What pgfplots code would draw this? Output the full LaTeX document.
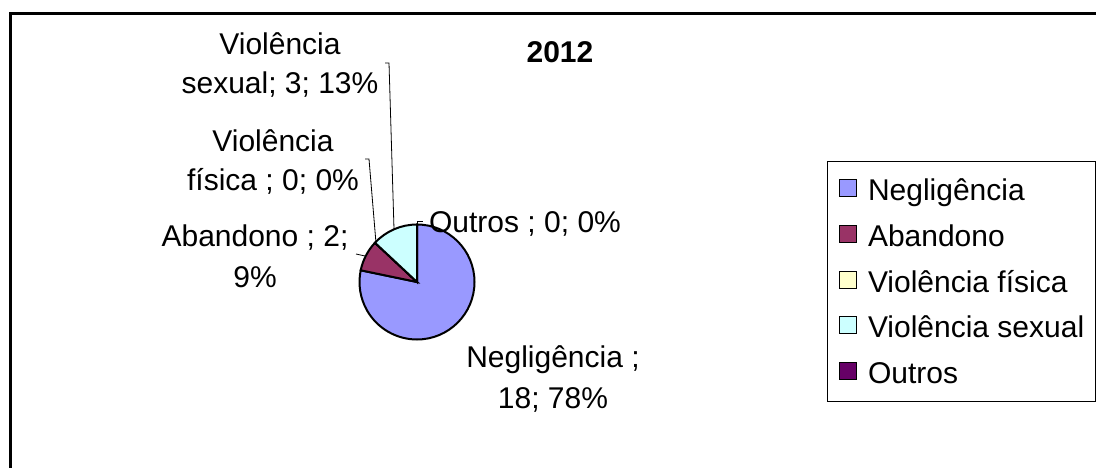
\documentclass[border=0pt]{standalone}
\usepackage{fontspec}
\setmainfont{Liberation Sans}
\usepackage{pgfplots}
\usepackage{pgfplotstable}
\pgfplotsset{compat=1.18}

\definecolor{cNeg}{HTML}{9999FF}
\definecolor{cAba}{HTML}{993366}
\definecolor{cFis}{HTML}{FFFFCC}
\definecolor{cSex}{HTML}{CCFFFF}
\definecolor{cOut}{HTML}{660066}

\pgfplotstableread[col sep=comma]{
cat,value
Negligência,18
Abandono,2
Violência física,0
Violência sexual,3
Outros,0
}\piedata

\pgfplotstablegetelem{0}{value}\of\piedata\edef\vA{\pgfplotsretval}
\pgfplotstablegetelem{1}{value}\of\piedata\edef\vB{\pgfplotsretval}
\pgfplotstablegetelem{2}{value}\of\piedata\edef\vC{\pgfplotsretval}
\pgfplotstablegetelem{3}{value}\of\piedata\edef\vD{\pgfplotsretval}
\pgfplotstablegetelem{4}{value}\of\piedata\edef\vE{\pgfplotsretval}
\pgfmathsetmacro\tot{\vA+\vB+\vC+\vD+\vE}
\pgfmathsetmacro\aA{90}
\pgfmathsetmacro\aB{\aA-360*\vA/\tot}
\pgfmathsetmacro\aC{\aB-360*\vB/\tot}
\pgfmathsetmacro\aD{\aC-360*\vC/\tot}
\pgfmathsetmacro\aE{\aD-360*\vD/\tot}
\pgfmathsetmacro\aF{\aE-360*\vE/\tot}

\newcommand\lbl{\fontsize{30}{39}\selectfont}
\def\cx{417}\def\cy{282}\def\R{57.5pt}

\begin{document}
\begin{tikzpicture}
\useasboundingbox (0,0) rectangle (1096pt,468pt);
\clip (0,0) rectangle (1096pt,468pt);
\begin{axis}[
  at={(0,0)}, anchor=south west,
  width=1096pt, height=468pt, scale only axis,
  xmin=0, xmax=1096, ymin=0, ymax=468, y dir=reverse,
  enlargelimits=false,
  hide axis, clip=false,
  legend style={at={(axis cs:827,161)}, anchor=north west, draw=black, line width=1pt,
     font=\fontsize{30}{36}\selectfont, inner xsep=11pt, inner ysep=11pt,
     row sep=10.75pt,
     nodes={inner sep=0pt, text height=28pt, text depth=7pt}},
  legend cell align=left,
  legend image code/.code={\path[draw=none, fill=none] (0pt,0pt) -- (29pt,0pt);
     \draw[#1, line width=1pt] (0pt,-6.5pt) rectangle (17pt,10.5pt);},
]
% outer chart frame
\draw[line width=3pt] (axis cs:10,13.5) rectangle (axis cs:1130,500);

% pie wedges (angles computed from the table values)
\filldraw[fill=cNeg, draw=black, line width=2pt] (axis cs:\cx,\cy) -- ++(\aA:\R) arc[start angle=\aA, end angle=\aB, radius=\R] -- cycle;
\filldraw[fill=cAba, draw=black, line width=2pt] (axis cs:\cx,\cy) -- ++(\aB:\R) arc[start angle=\aB, end angle=\aC, radius=\R] -- cycle;
\filldraw[fill=cFis, draw=black, line width=2pt] (axis cs:\cx,\cy) -- ++(\aC:\R) arc[start angle=\aC, end angle=\aD, radius=\R] -- cycle;
\filldraw[fill=cSex, draw=black, line width=2pt] (axis cs:\cx,\cy) -- ++(\aD:\R) arc[start angle=\aD, end angle=\aE, radius=\R] -- cycle;
\filldraw[fill=cOut, draw=black, line width=2pt] (axis cs:\cx,\cy) -- ++(\aE:\R) arc[start angle=\aE, end angle=\aF, radius=\R] -- cycle;

% leader lines
\draw[line width=0.8pt] (axis cs:385,63) -- (axis cs:389,63) -- (axis cs:394,229);
\draw[line width=0.8pt] (axis cs:365,159) -- (axis cs:369,159) -- (axis cs:376,243);
\draw[line width=0.8pt] (axis cs:356,254) -- (axis cs:365,256);
\draw[line width=0.8pt] (axis cs:417,225) -- (axis cs:417,221) -- (axis cs:423,221);

% title
\node[font=\bfseries\fontsize{30}{36}\selectfont, anchor=base] at (axis cs:560,63) {2012};

% data labels
\node[font=\lbl, anchor=base] at (axis cs:280,55) {Violência};
\node[font=\lbl, anchor=base] at (axis cs:280,94) {sexual; 3; 13\%};
\node[font=\lbl, anchor=base] at (axis cs:273,152) {Violência};
\node[font=\lbl, anchor=base] at (axis cs:273,190) {física ; 0; 0\%};
\node[font=\lbl, anchor=base] at (axis cs:255,247) {Abandono ; 2;};
\node[font=\lbl, anchor=base] at (axis cs:255,287) {9\%};
\node[font=\lbl, anchor=base] at (axis cs:525,233) {Outros ; 0; 0\%};
\node[font=\lbl, anchor=base] at (axis cs:553,367) {Negligência ;};
\node[font=\lbl, anchor=base] at (axis cs:553,408) {18; 78\%};

% legend
\addlegendimage{fill=cNeg, draw=black}
\addlegendentry{Negligência}
\addlegendimage{fill=cAba, draw=black}
\addlegendentry{Abandono}
\addlegendimage{fill=cFis, draw=black}
\addlegendentry{Violência física}
\addlegendimage{fill=cSex, draw=black}
\addlegendentry{Violência sexual}
\addlegendimage{fill=cOut, draw=black}
\addlegendentry{Outros}
\end{axis}
\end{tikzpicture}
\end{document}
